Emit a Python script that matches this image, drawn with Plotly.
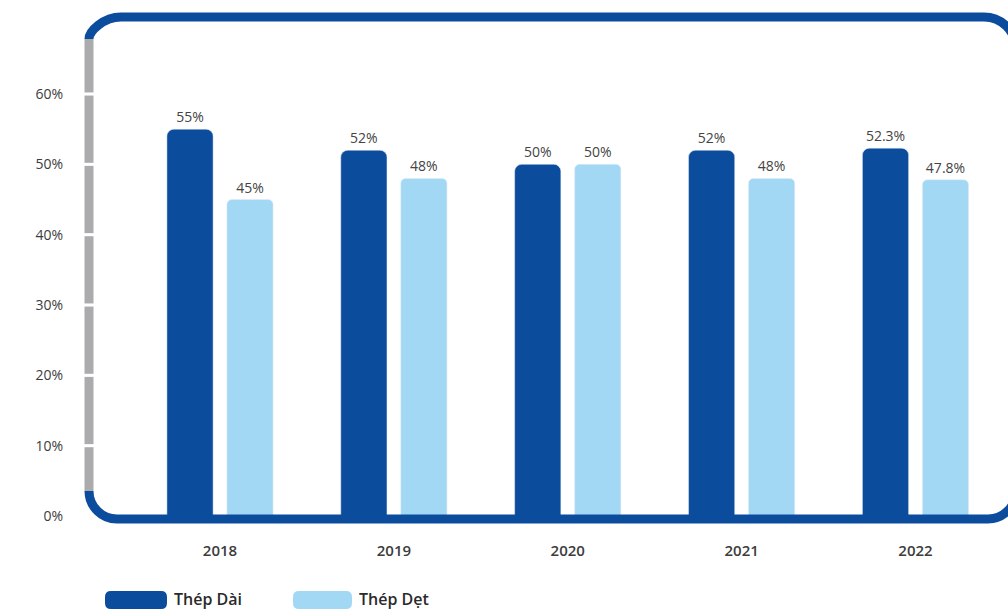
import plotly.graph_objects as go

# ---- data ----
years = ["2018", "2019", "2020", "2021", "2022"]
thep_dai = [55, 52, 50, 52, 52.3]
thep_det = [45, 48, 50, 48, 47.8]
dai_labels = ["55%", "52%", "50%", "52%", "52.3%"]
det_labels = ["45%", "48%", "50%", "48%", "47.8%"]
series_names = ["Thép Dài", "Thép Dẹt"]
y_ticks = [0, 10, 20, 30, 40, 50, 60]
y_tick_labels = ["0%", "10%", "20%", "30%", "40%", "50%", "60%"]

DARK = "#0B4C9C"
LIGHT = "#A3D8F4"
GRAY = "#ABABAD"
TXT = "#3C3C3C"
W, H = 1008, 612

def px(x):
    return x / W

def py(y):
    return 1 - y / H

xi = list(range(len(years)))

fig = go.Figure()
fig.add_trace(go.Bar(
    x=xi, y=thep_dai, name=series_names[0], marker=dict(color=DARK, cornerradius=7),
    text=dai_labels, textposition="outside", cliponaxis=False,
    textfont=dict(family="Open Sans", size=14, color="#444444"), showlegend=False))
fig.add_trace(go.Bar(
    x=xi, y=thep_det, name=series_names[1], marker=dict(color=LIGHT, cornerradius=5),
    text=det_labels, textposition="outside", cliponaxis=False,
    textfont=dict(family="Open Sans", size=14, color="#444444"), showlegend=False))

# pixel geometry of plot area
x_left_px = 89
x0_center, x4_center = 220, 915.5
unit = (x4_center - x0_center) / 4
x_range = [0 - (x0_center - x_left_px) / unit, 4 + (W - x4_center) / unit]
y0_px, y60_px = 516, 94
per = (y0_px - y60_px) / 60
y_range = [0, y0_px / per]

fig.update_layout(
    width=W, height=H,
    margin=dict(l=0, r=0, t=0, b=0, autoexpand=False),
    paper_bgcolor="white", plot_bgcolor="rgba(0,0,0,0)",
    barmode="group", bargap=0.31, bargroupgap=0.23,
    font=dict(family="Open Sans", color=TXT),
    showlegend=False,
    xaxis=dict(domain=[px(x_left_px), 1], range=x_range, tickmode="array",
               tickvals=xi, ticktext=years, showgrid=False, zeroline=False,
               showline=False, ticks="", ticklabelstandoff=24, automargin=False,
               tickfont=dict(family="Open Sans", size=15, color=TXT, weight=600)),
    yaxis=dict(domain=[py(y0_px), 1], range=y_range, tickmode="array",
               tickvals=y_ticks, ticktext=y_tick_labels, showgrid=False,
               zeroline=False, showline=False, ticks="", ticklabelstandoff=25,
               automargin=False,
               tickfont=dict(family="Open Sans", size=14, color=TXT)),
)

# ---- decorative rounded frame ----
L, T, R, B = 89, 17, 1016, 519
rt, rb = 32, 28
lw = 9
k = 0.55
def P(x, y):
    return f"{px(x):.5f},{py(y):.5f}"

blue_path = (
    f"M{P(L, T + rt - 10)} "
    f"C{P(L, T + rt*(1-k))} {P(L + rt*(1-k), T)} {P(L + rt, T)} "
    f"L{P(R - rt, T)} "
    f"C{P(R - rt*(1-k), T)} {P(R, T + rt*(1-k))} {P(R, T + rt)} "
    f"L{P(R, B - rb)} "
    f"C{P(R, B - rb*(1-k))} {P(R - rb*(1-k), B)} {P(R - rb, B)} "
    f"L{P(L + rb, B)} "
    f"C{P(L + rb*(1-k), B)} {P(L, B - rb*(1-k))} {P(L, B - rb)}")
gray_path = f"M{P(L, T + rt - 10)} L{P(L, B - rb)}"
shapes = [
    dict(type="path", xref="paper", yref="paper", path=gray_path,
         line=dict(color=GRAY, width=lw), layer="above"),
    dict(type="path", xref="paper", yref="paper", path=blue_path,
         line=dict(color=DARK, width=lw), layer="above"),
]
# white notches on the gray line at the tick positions
for v in y_ticks[1:]:
    shapes.append(dict(type="rect", xref="paper", yref="y",
                       x0=px(L - 6), x1=px(L + 6), y0=v - 0.22, y1=v + 0.22,
                       fillcolor="white", line=dict(width=0), layer="above"))

# ---- custom legend ----
def rounded_rect(x0, y0, x1, y1, rr):
    return (f"M{P(x0 + rr, y0)} L{P(x1 - rr, y0)} Q{P(x1, y0)} {P(x1, y0 + rr)} "
            f"L{P(x1, y1 - rr)} Q{P(x1, y1)} {P(x1 - rr, y1)} L{P(x0 + rr, y1)} "
            f"Q{P(x0, y1)} {P(x0, y1 - rr)} L{P(x0, y0 + rr)} Q{P(x0, y0)} {P(x0 + rr, y0)} Z")

legend_items = [(105, 167, DARK), (293, 352, LIGHT)]
annotations = []
for (sx0, sx1, col), name in zip(legend_items, series_names):
    shapes.append(dict(type="path", xref="paper", yref="paper",
                       path=rounded_rect(sx0, 591, sx1, 609, 6),
                       fillcolor=col, line=dict(width=0)))
    annotations.append(dict(x=px(sx1 + 5), y=py(599), xref="paper", yref="paper",
                            text=name, showarrow=False, xanchor="left", yanchor="middle",
                            font=dict(family="Open Sans", size=16, color="#2A2A2A", weight=600)))

fig.update_layout(shapes=shapes, annotations=annotations)

fig.write_html("out.html")
